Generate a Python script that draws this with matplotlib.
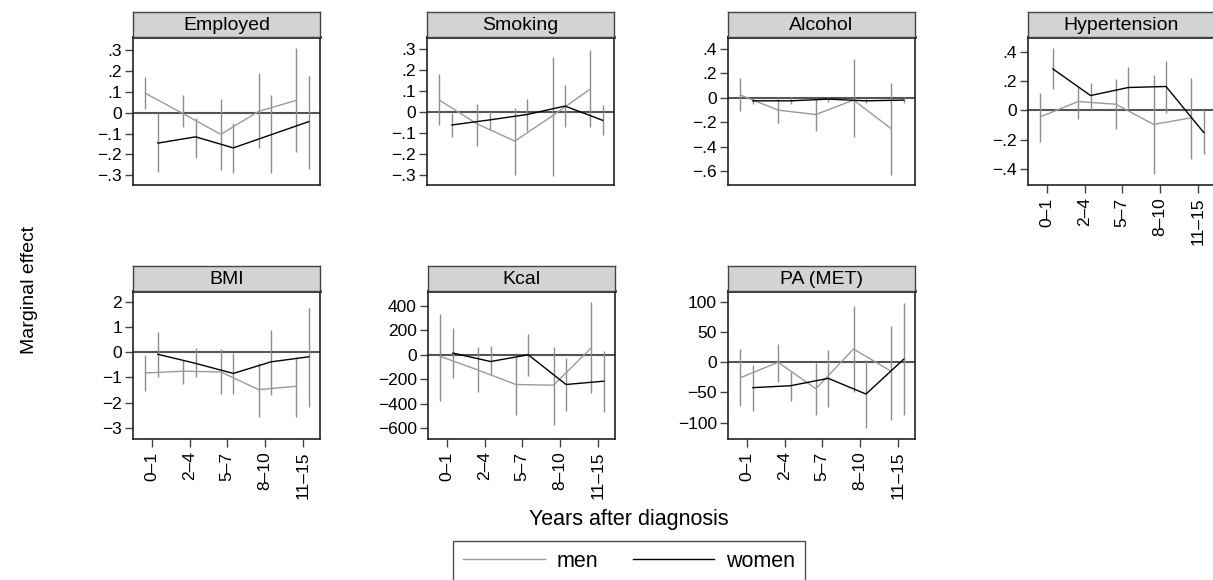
import matplotlib as mpl
mpl.use('Agg')
import matplotlib.pyplot as plt

plt.rcParams['font.family'] = ['Liberation Sans', 'DejaVu Sans']

periods = ['0\u20131', '2\u20134', '5\u20137', '8\u201310', '11\u201315']

# marginal effects with 95% CI
employed_men = [0.093, -0.005, -0.104, 0.006, 0.059]
employed_men_lo = [0.018, -0.07, -0.274, -0.17, -0.19]
employed_men_hi = [0.17, 0.085, 0.066, 0.19, 0.308]
employed_women = [-0.146, -0.116, -0.169, -0.106, -0.043]
employed_women_lo = [-0.286, -0.218, -0.29, -0.29, -0.268]
employed_women_hi = [0.0, -0.027, -0.05, 0.087, 0.178]

smoking_men = [0.054, -0.059, -0.141, -0.02, 0.107]
smoking_men_lo = [-0.066, -0.166, -0.304, -0.307, -0.074]
smoking_men_hi = [0.179, 0.035, 0.019, 0.26, 0.294]
smoking_women = [-0.064, -0.04, -0.014, 0.026, -0.042]
smoking_women_lo = [-0.122, -0.086, -0.093, -0.074, -0.11]
smoking_women_hi = [-0.006, 0.002, 0.062, 0.126, 0.029]

alcohol_men = [0.022, -0.101, -0.137, -0.019, -0.252]
alcohol_men_lo = [-0.107, -0.205, -0.268, -0.323, -0.633]
alcohol_men_hi = [0.164, 0.008, -0.005, 0.315, 0.123]
alcohol_women = [-0.025, -0.025, -0.011, -0.025, -0.019]
alcohol_women_lo = [-0.05, -0.05, -0.035, -0.045, -0.045]
alcohol_women_hi = [0.0, 0.005, 0.01, -0.005, 0.005]

hyper_men = [-0.043, 0.061, 0.043, -0.095, -0.05]
hyper_men_lo = [-0.218, -0.055, -0.127, -0.434, -0.332]
hyper_men_hi = [0.118, 0.164, 0.214, 0.245, 0.225]
hyper_women = [0.284, 0.102, 0.157, 0.164, -0.15]
hyper_women_lo = [0.145, 0.01, 0.014, -0.014, -0.298]
hyper_women_hi = [0.425, 0.19, 0.3, 0.34, 0.0]

bmi_men = [-0.82, -0.75, -0.78, -1.48, -1.35]
bmi_men_lo = [-1.53, -1.27, -1.66, -2.56, -2.56]
bmi_men_hi = [-0.12, -0.32, 0.12, -0.42, -0.18]
bmi_women = [-0.08, -0.44, -0.84, -0.38, -0.18]
bmi_women_lo = [-0.98, -1.0, -1.66, -1.68, -2.16]
bmi_women_hi = [0.8, 0.15, -0.03, 0.9, 1.77]

kcal_men = [-14, -125, -243, -249, 57]
kcal_men_lo = [-377, -303, -494, -571, -311]
kcal_men_hi = [333, 66, -16, 66, 434]
kcal_women = [14, -55, 0, -243, -216]
kcal_women_lo = [-189, -161, -172, -456, -467]
kcal_women_hi = [216, 71, 169, -30, 33]

pa_men = [-25.5, 0, -43.7, 22, -15]
pa_men_lo = [-73, -32.7, -88, -49, -96]
pa_men_hi = [21.6, 31, -1, 93.6, 60]
pa_women = [-42, -38.8, -26.6, -52.6, 5]
pa_women_lo = [-80, -63.7, -74.8, -109, -88]
pa_women_hi = [-5, -16, 21, 3.3, 97.5]

W, H = 1213, 580

# title, data, ylim, yticks, panel left (px), axes top (px), show x labels
panels = [
    ('Employed', (employed_men, employed_men_lo, employed_men_hi, employed_women, employed_women_lo, employed_women_hi),
     (-0.347, 0.363), [-0.3, -0.2, -0.1, 0, 0.1, 0.2, 0.3], 133, 37, False),
    ('Smoking', (smoking_men, smoking_men_lo, smoking_men_hi, smoking_women, smoking_women_lo, smoking_women_hi),
     (-0.35, 0.355), [-0.3, -0.2, -0.1, 0, 0.1, 0.2, 0.3], 427, 37, False),
    ('Alcohol', (alcohol_men, alcohol_men_lo, alcohol_men_hi, alcohol_women, alcohol_women_lo, alcohol_women_hi),
     (-0.712, 0.496), [-0.6, -0.4, -0.2, 0, 0.2, 0.4], 728, 37, False),
    ('Hypertension', (hyper_men, hyper_men_lo, hyper_men_hi, hyper_women, hyper_women_lo, hyper_women_hi),
     (-0.509, 0.502), [-0.4, -0.2, 0, 0.2, 0.4], 1028, 37, True),
    ('BMI', (bmi_men, bmi_men_lo, bmi_men_hi, bmi_women, bmi_women_lo, bmi_women_hi),
     (-3.44, 2.43), [-3, -2, -1, 0, 1, 2], 133, 291, True),
    ('Kcal', (kcal_men, kcal_men_lo, kcal_men_hi, kcal_women, kcal_women_lo, kcal_women_hi),
     (-689, 522), [-600, -400, -200, 0, 200, 400], 428, 291, True),
    ('PA (MET)', (pa_men, pa_men_lo, pa_men_hi, pa_women, pa_women_lo, pa_women_hi),
     (-127, 118), [-100, -50, 0, 50, 100], 728, 291, True),
]


def lab(v):
    if v == 0:
        return '0'
    s = '%g' % abs(v)
    if s.startswith('0.'):
        s = s[1:]
    return ('\u2212' if v < 0 else '') + s


fig = plt.figure(figsize=(W / 100, H / 100), dpi=100)

pw, ph, hh = 187, 148, 25
xs = list(range(1, 6))
xm = [x - 0.17 for x in xs]
xw = [x + 0.16 for x in xs]
ci_col = '#8c8c8c'

for title, d, ylim, yt, left, top, showx in panels:
    m, mlo, mhi, w, wlo, whi = d
    ax = fig.add_axes([left / W, 1 - (top + ph) / H, pw / W, ph / H])
    ax.axhline(0, color='#555555', lw=1.5, zorder=1)
    ax.vlines(xm, mlo, mhi, color=ci_col, lw=1.0, zorder=2)
    ax.vlines(xw, wlo, whi, color=ci_col, lw=1.0, zorder=2)
    ax.plot(xm, m, color='#9a9a9a', lw=1.0, zorder=3)
    ax.plot(xw, w, color='black', lw=1.0, zorder=3)
    ax.set_xlim(0.5, 5.46)
    ax.set_ylim(*ylim)
    ax.set_yticks(yt)
    ax.set_yticklabels([lab(v) for v in yt])
    ax.tick_params(axis='y', length=6, width=1, color='#444444', labelsize=12.5, pad=2)
    if showx:
        ax.set_xticks(xs)
        ax.set_xticklabels(periods, rotation=90)
        ax.tick_params(axis='x', length=6, width=1, color='#444444', labelsize=12.5, pad=3)
    else:
        ax.set_xticks([])
    for s in ['left', 'bottom', 'right']:
        ax.spines[s].set_color('#222222')
        ax.spines[s].set_linewidth(1.2)
    ax.spines['top'].set_color('black')
    ax.spines['top'].set_linewidth(1.8)

    hax = fig.add_axes([left / W, 1 - top / H, pw / W, hh / H])
    hax.set_facecolor('#d3d3d3')
    hax.set_xticks([])
    hax.set_yticks([])
    for s in hax.spines.values():
        s.set_color('#444444')
        s.set_linewidth(1.0)
    hax.text(0.5, 0.45, title, ha='center', va='center', fontsize=14, transform=hax.transAxes)

fig.text(30 / W, 1 - 290 / H, 'Marginal effect', rotation=90, ha='center', va='center', fontsize=14)
fig.text(629 / W, 1 - 520 / H, 'Years after diagnosis', ha='center', va='center', fontsize=15.5)

h_men, = plt.plot([], [], color='#9a9a9a', lw=1.0)
h_women, = plt.plot([], [], color='black', lw=1.0)
leg = fig.legend([h_men, h_women], ['men', 'women'], loc='upper center',
                 bbox_to_anchor=(629 / W, 1 - 541 / H), ncol=2, fontsize=15.5,
                 handlelength=3.8, handletextpad=0.55, columnspacing=1.6,
                 frameon=True, fancybox=False, borderpad=0.45, borderaxespad=0)
leg.get_frame().set_edgecolor('#222222')
leg.get_frame().set_linewidth(1.0)

fig.savefig('out.png', dpi=100)
